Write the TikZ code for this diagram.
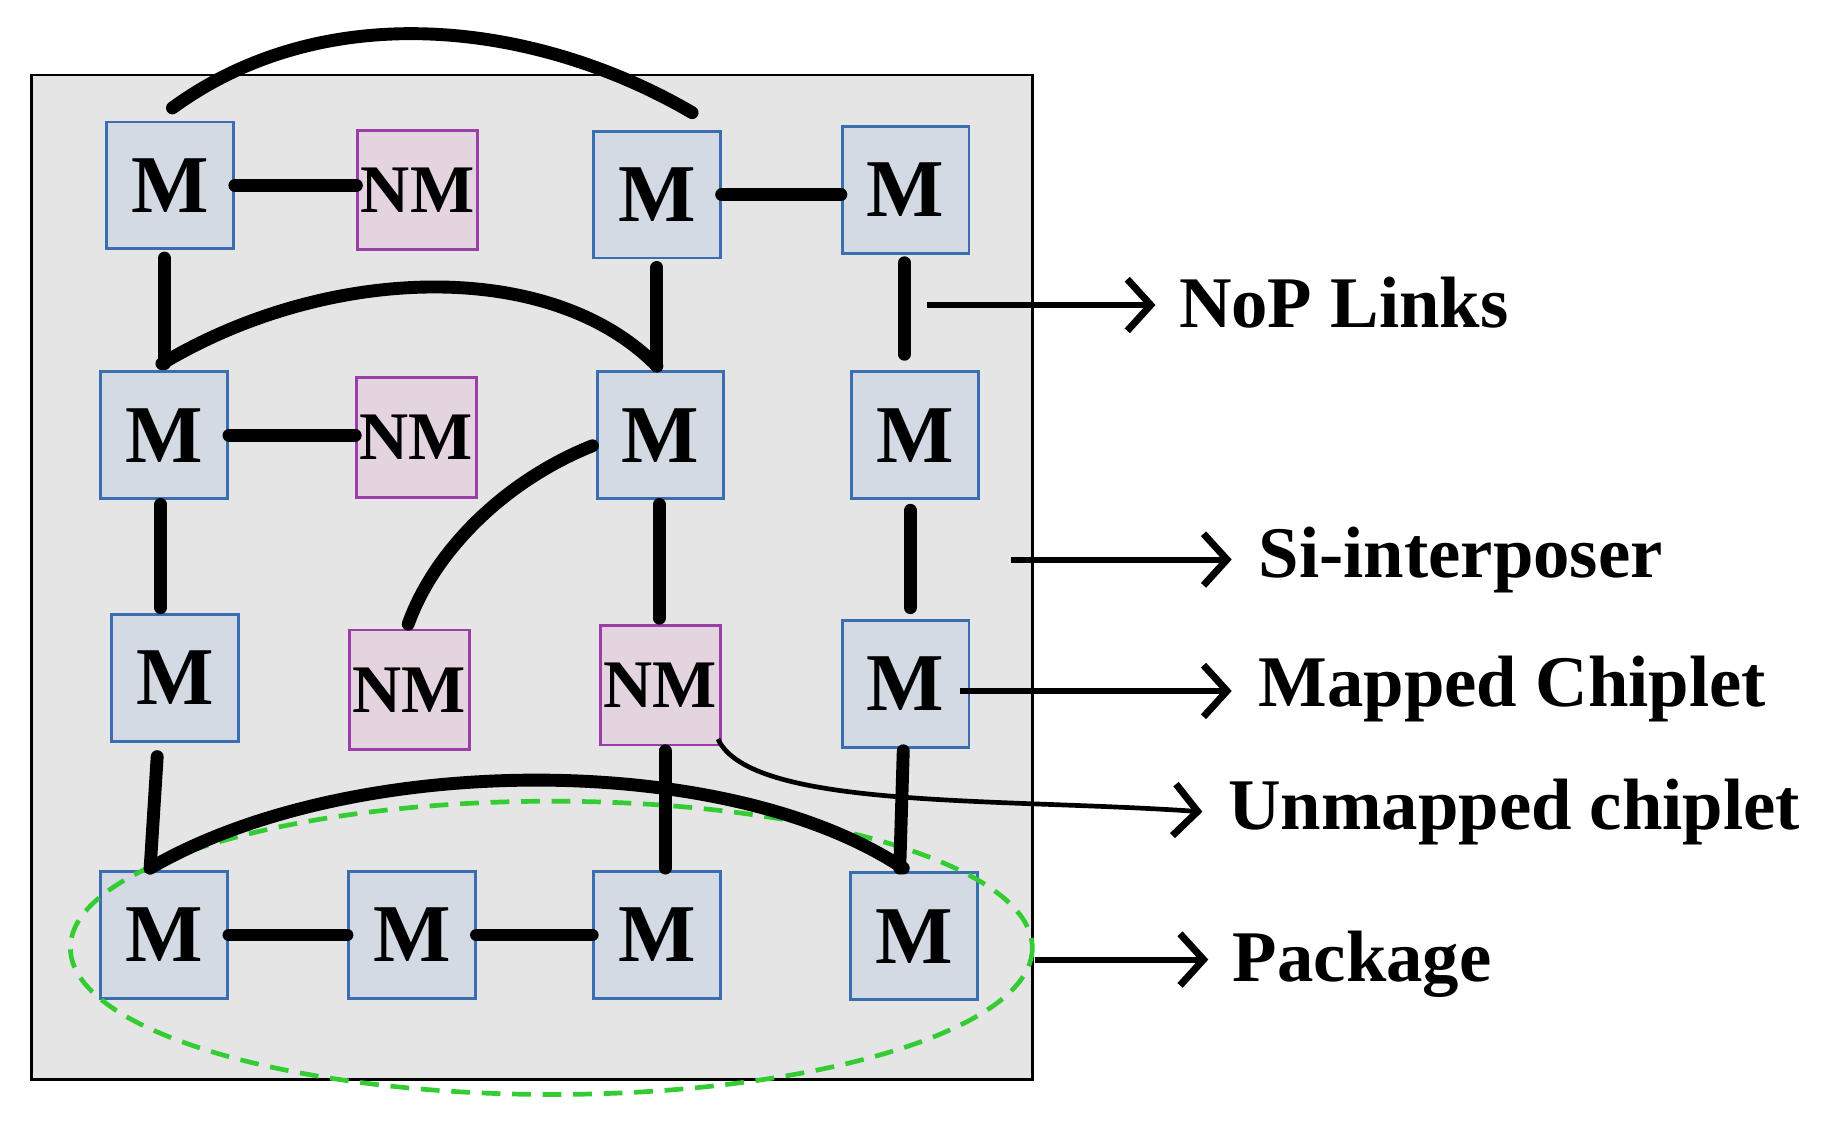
\documentclass[tikz,border=0pt]{standalone}
\usepackage{fontspec}
\setmainfont{Liberation Serif}
\usetikzlibrary{arrows.meta}
\definecolor{mb}{HTML}{D4DAE3}
\definecolor{mbd}{HTML}{3A6EB0}
\definecolor{nb}{HTML}{E3D4E0}
\definecolor{nbd}{HTML}{9A3FA8}
\definecolor{pk}{HTML}{33CC33}
\begin{document}
\begin{tikzpicture}[x=0.5pt,y=-0.5pt,
  M/.style={draw=mbd,line width=1.2pt,fill=mb,minimum width=54pt,minimum height=54pt,inner sep=0pt,font=\fontsize{35}{35}\selectfont\bfseries},
  NM/.style={draw=nbd,line width=1.2pt,fill=nb,minimum width=51pt,minimum height=51pt,inner sep=0pt,font=\fontsize{29}{29}\selectfont\bfseries},
  link/.style={line width=5.5pt,line cap=round},
  lab/.style={line width=2.5pt,-{Straight Barb[length=10pt,width=22pt,line width=3pt]}},
  txt/.style={anchor=west,font=\fontsize{31}{31}\selectfont\bfseries}]
\useasboundingbox (0,0) rectangle (1560,966);
\draw[fill=black!10,line width=1.2pt] (27,64) rectangle (880,920);
\node[M] (a1) at (145,158) {M};
\node[NM] (a2) at (356,162) {NM};
\node[M] (a3) at (560,166) {M};
\node[M] (a4) at (772,162) {M};
\node[M] (b1) at (140,371) {M};
\node[NM] (b2) at (355,373) {NM};
\node[M] (b3) at (563,371) {M};
\node[M] (b4) at (780,371) {M};
\node[M] (c1) at (149,578) {M};
\node[NM] (c2) at (349,588) {NM};
\node[NM] (c3) at (563,584) {NM};
\node[M] (c4) at (772,583) {M};
\node[M] (d1) at (140,797) {M};
\node[M] (d2) at (351,797) {M};
\node[M] (d3) at (560,797) {M};
\node[M] (d4) at (779,798) {M};
\draw[pk,line width=2pt,dash pattern=on 8pt off 5pt] (470,808) ellipse [x radius=410,y radius=125];
% links
\draw[link] (147,92) .. controls (280,-5) and (460,20) .. (590,96);
\draw[link] (a1.east) -- (a1.east -| a2.west);
\draw[link] (a3.east) -- (a3.east -| a4.west);
\draw[link] (140,220) -- (140,310);
\draw[link] (138,310) .. controls (280,225) and (470,220) .. (560,312);
\draw[link] (560,228) -- (560,312);
\draw[link] (771,224) -- (771,302);
\draw[link] (b1.east) -- (b1.east -| b2.west);
\draw[link] (505,380) .. controls (430,410) and (370,470) .. (348,532);
\draw[link] (562,430) -- (562,527);
\draw[link] (776,435) -- (776,518);
\draw[link] (137,430) -- (137,518);
\draw[link] (134,645) -- (128,740);
\draw[link] (128,740) .. controls (300,640) and (620,640) .. (770,740);
\draw[link] (567,640) -- (567,740);
\draw[link] (770,640) -- (767,740);
\draw[link] (d1.east) -- (d2.west);
\draw[link] (d2.east) -- (d3.west);
% labels
\coordinate (n0) at (790,260); \coordinate (n1) at (985,260);
\draw[lab] (n0) -- (n1); \node[txt] at (998,258) {NoP Links};
\coordinate (s0) at (862,477); \coordinate (s1) at (1050,477);
\draw[lab] (s0) -- (s1); \node[txt] at (1066,477) {Si-interposer};
\coordinate (m0) at (818,589); \coordinate (m1) at (1050,589);
\draw[lab] (m0) -- (m1); \node[txt] at (1066,587) {Mapped Chiplet};
\coordinate (u0) at (612,630); \coordinate (u1) at (1025,692);
\draw[lab,line width=2pt] (u0) .. controls (640,690) and (850,680) .. (u1); \node[txt] at (1040,692) {Unmapped chiplet};
\coordinate (p0) at (882,818); \coordinate (p1) at (1030,818);
\draw[lab] (p0) -- (p1); \node[txt] at (1044,822) {Package};
\end{tikzpicture}
\end{document}
